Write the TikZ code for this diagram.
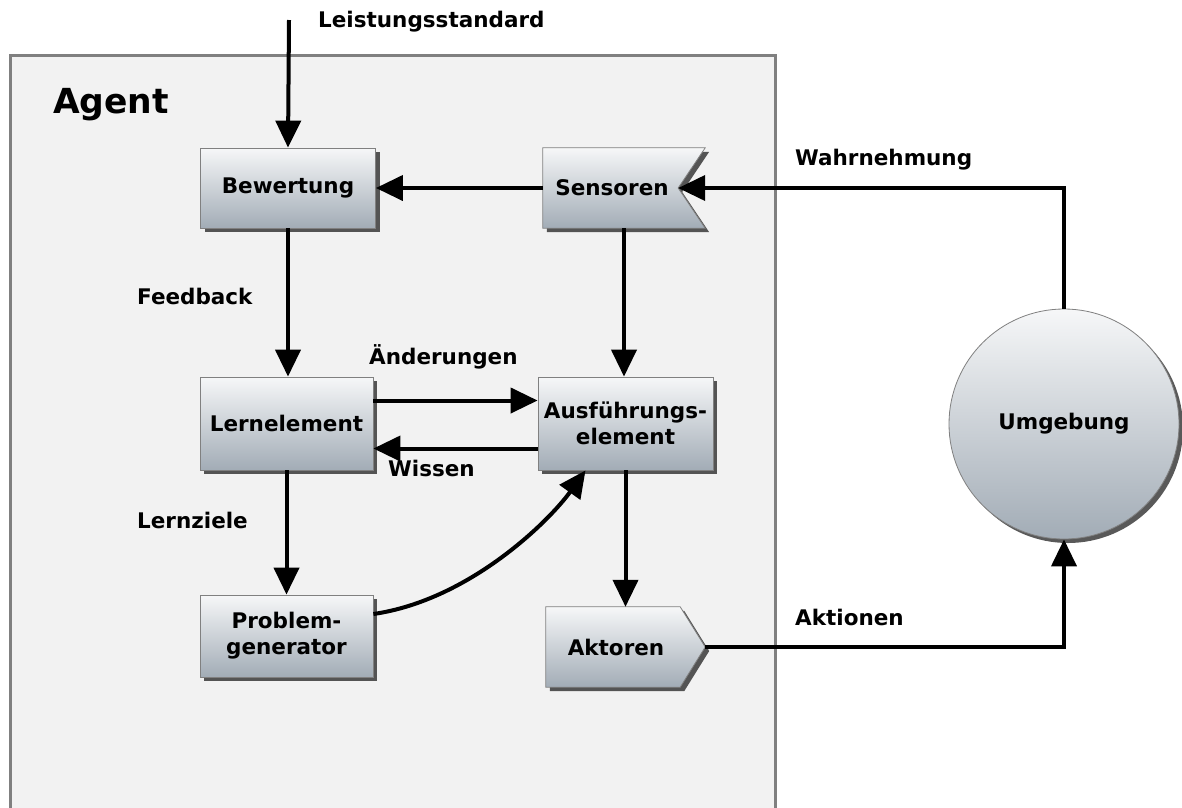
\documentclass[tikz,border=0pt]{standalone}
\usepackage{fontspec}
\setmainfont{DejaVu Sans}
\usetikzlibrary{arrows.meta,shadows,calc}

\definecolor{boxtop}{HTML}{F6F7F8}
\definecolor{boxbot}{HTML}{A2ACB6}
\definecolor{agentfill}{HTML}{F2F2F2}
\definecolor{agentline}{HTML}{808080}

\tikzset{
  txt/.style={font=\fontsize{21.5}{26}\selectfont\bfseries, inner sep=0pt, align=center},
  lbl/.style={txt, anchor=west},
  unitfill/.style={draw=gray, line width=0.8pt, top color=boxtop, bottom color=boxbot,
    drop shadow={shadow xshift=4pt, shadow yshift=-4pt, fill=black, opacity=0.65}},
  unit/.style={unitfill, txt},
  body/.style={draw=none, inner sep=0pt},
  flow/.style={line width=4pt, -{Triangle[length=27pt,width=25pt]}},
}

\begin{document}
\begin{tikzpicture}[x=1pt,y=-1pt]
\useasboundingbox (0,0) rectangle (1182,807);
\fill[white] (0,0) rectangle (1182,807);

% agent frame
\draw[agentline, line width=3pt, fill=agentfill] (10,55) rectangle (775,830);
\node[txt, anchor=west, font=\fontsize{34.5}{40}\selectfont\bfseries] (agent) at (53,105) {Agent};

% rectangular units
\node[unit, minimum width=175pt, minimum height=80pt] (bew) at (288,188) {Bewertung};
\node[unit, minimum width=173pt, minimum height=93pt] (lern) at (286.5,423.5) {Lernelement};
\node[unit, minimum width=175pt, minimum height=93pt] (aus) at (625.5,423.5) {Ausführungs-\\element};
\node[unit, minimum width=173pt, minimum height=82pt] (pg) at (286.5,636) {Problem-\\generator};

% sensors: box with a notch on the right
\node[body, minimum width=162pt, minimum height=80pt] (sens) at (624,188) {};
\path[unitfill] (sens.north west) -- (sens.north east) -- ([xshift=-27pt]sens.east)
  -- (sens.south east) -- (sens.south west) -- cycle;
\node[txt] (senstext) at (612,188) {Sensoren};

% actuators: box with a point on the right
\node[body, minimum width=159pt, minimum height=80pt] (akt) at (625.5,647) {};
\path[unitfill] (akt.north west) -- ([xshift=-25pt]akt.north east) -- (akt.east)
  -- ([xshift=-25pt]akt.south east) -- (akt.south west) -- cycle;
\node[txt] (akttext) at (616,647) {Aktoren};

% environment
\node[unit, circle, minimum size=230pt] (umg) at (1064,424) {Umgebung};

% connectors
\coordinate (ls) at (289,20);
\draw[flow] (ls) -- (bew.north);
\draw[flow] (sens.west) -- (bew.east);
\draw[flow] (sens.south) -- (sens.south |- aus.north);
\draw[flow] (umg.north) |- ([xshift=-27pt]sens.east);
\draw[flow] (bew.south) -- (bew.south |- lern.north);
\draw[flow] ([yshift=23pt]lern.east) -- ([yshift=23pt]aus.west);
\draw[flow] ([yshift=-25pt]aus.west) -- ([yshift=-25pt]lern.east);
\draw[flow] (lern.south) -- (pg.north);
\draw[flow] ([yshift=22pt]pg.east) .. controls (470,600) and (550,520) .. ([xshift=-40pt]aus.south);
\draw[flow] (aus.south) -- (akt.north);
\draw[flow] (akt.east) -| (umg.south);

% labels
\node[lbl] (l1) at (318,22) {Leistungsstandard};
\node[lbl] (l2) at (795,160) {Wahrnehmung};
\node[lbl] (l3) at (137,296) {Feedback};
\node[lbl] (l4) at (369,357) {Änderungen};
\node[lbl] (l5) at (388,468) {Wissen};
\node[lbl] (l6) at (137,520) {Lernziele};
\node[lbl] (l7) at (795,617) {Aktionen};
\end{tikzpicture}
\end{document}
